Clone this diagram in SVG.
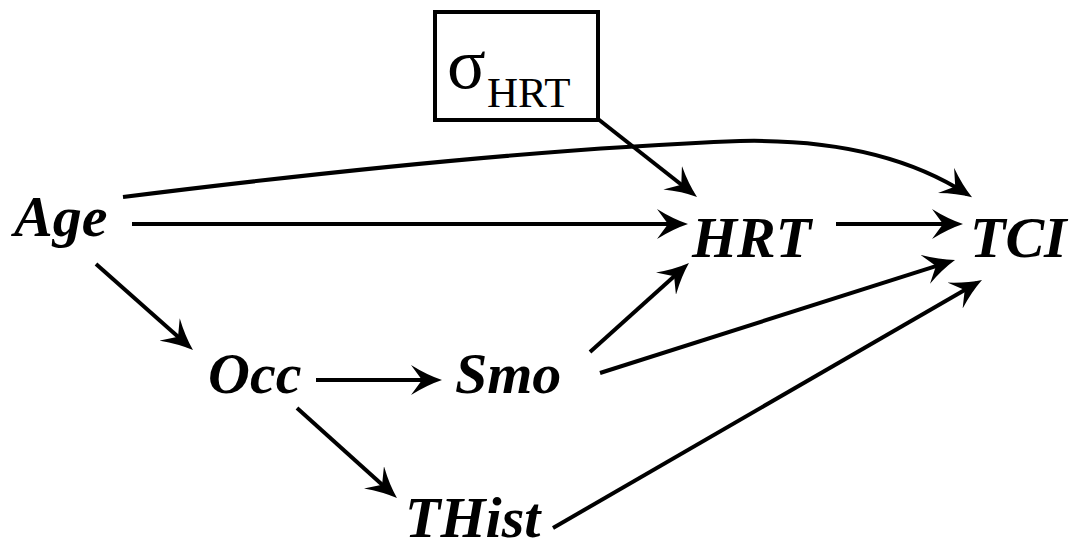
<svg xmlns="http://www.w3.org/2000/svg" width="1070" height="541" viewBox="0 0 1070 541">
<style>
.lbl{font-family:"Liberation Serif","Times New Roman",serif;font-weight:bold;font-style:italic;font-size:58px;fill:#000}
.sig{font-family:"Liberation Serif","Times New Roman",serif;fill:#000}
.e{fill:none;stroke:#000;stroke-width:4;stroke-linecap:butt}
</style>
<defs>
<marker id="ah" viewBox="0 0 31 30" markerWidth="31" markerHeight="30" markerUnits="userSpaceOnUse" refX="25" refY="15" orient="auto">
<path d="M31,15 Q16,10 0,0 L11,15 L0,30 Q16,20 31,15 Z" fill="#000"/>
</marker>
</defs>
<rect width="1070" height="541" fill="#fff"/>
<g id="connectors">
<line class="e" x1="598" y1="119" x2="692.3" y2="193.3" marker-end="url(#ah)"/>
<line class="e" x1="132" y1="224" x2="682" y2="224" marker-end="url(#ah)"/>
<path class="e" d="M123,197 Q500,150 740,141 Q880,138 967,194" marker-end="url(#ah)"/>
<line class="e" x1="836" y1="224" x2="957" y2="224" marker-end="url(#ah)"/>
<line class="e" x1="96" y1="264" x2="188.5" y2="346" marker-end="url(#ah)"/>
<line class="e" x1="316" y1="380" x2="436" y2="380" marker-end="url(#ah)"/>
<line class="e" x1="590" y1="352" x2="684.5" y2="267" marker-end="url(#ah)"/>
<line class="e" x1="600" y1="373" x2="949.3" y2="261.8" marker-end="url(#ah)"/>
<line class="e" x1="553" y1="528" x2="976.8" y2="283" marker-end="url(#ah)"/>
<line class="e" x1="297" y1="408" x2="392.5" y2="494" marker-end="url(#ah)"/>
</g>
<g id="sigma">
<rect x="435" y="12" width="163" height="108" fill="none" stroke="#000" stroke-width="4"/>
<text class="sig" x="447" y="88" font-size="72">σ</text>
<text class="sig" x="487" y="107" font-size="43">HRT</text>
</g>
<g id="Age"><text class="lbl" x="14" y="236">Age</text></g>
<g id="HRT"><text class="lbl" x="692" y="257">HRT</text></g>
<g id="TCI"><text class="lbl" x="970" y="257">TCI</text></g>
<g id="Occ"><text class="lbl" x="208" y="393">Occ</text></g>
<g id="Smo"><text class="lbl" x="455" y="393">Smo</text></g>
<g id="THist"><text class="lbl" x="405" y="537">THist</text></g>
</svg>
